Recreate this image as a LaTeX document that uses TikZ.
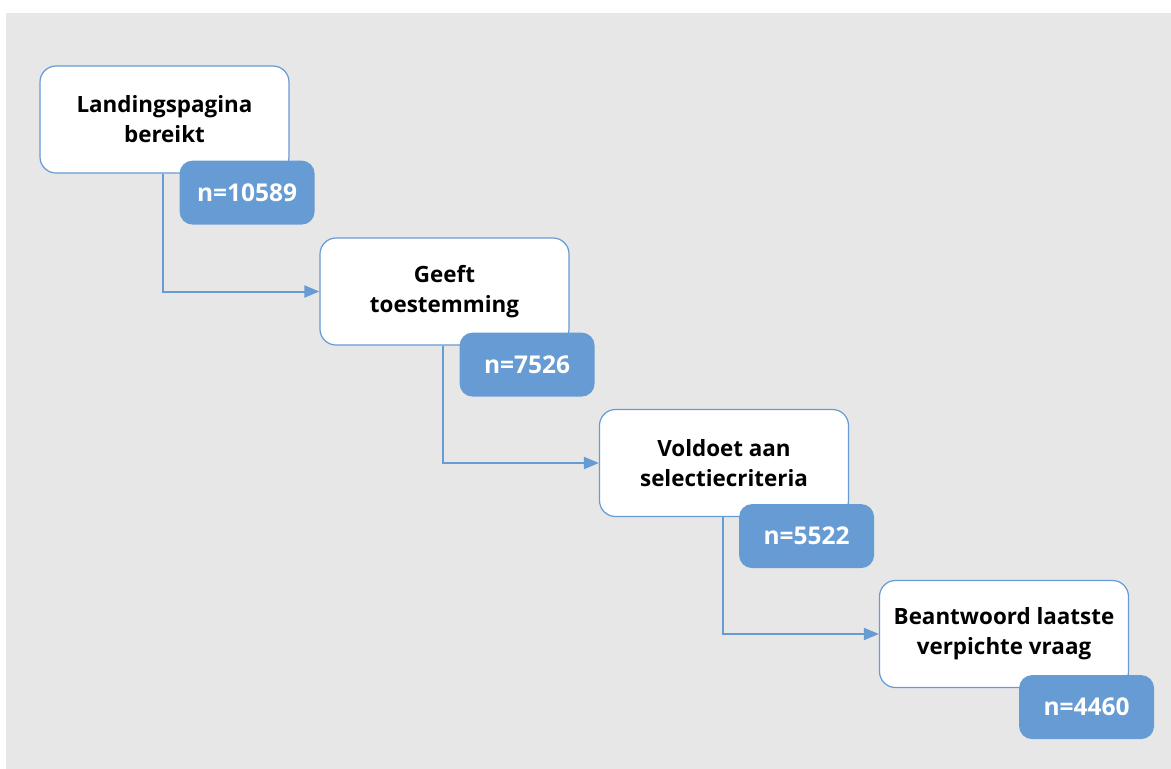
\documentclass[tikz,border=0pt]{standalone}
\usepackage{fontspec}
\setmainfont{Open Sans}
\usepackage{tikz}
\usetikzlibrary{arrows.meta, positioning, calc}

\definecolor{stepblue}{RGB}{102,155,211}
\definecolor{panelgray}{RGB}{231,231,231}

\tikzset{
    stage/.style={draw=stepblue, line width=1.2pt, fill=white, rounded corners=16pt,
        minimum width=249pt, minimum height=107pt, align=center,
        font=\fontsize{22.4}{30}\selectfont\bfseries},
    count/.style={fill=stepblue, text=white, rounded corners=13pt,
        minimum width=135pt, minimum height=64pt,
        font=\fontsize{24.5}{28}\selectfont\bfseries},
    flow/.style={draw=stepblue, line width=2pt, -{Triangle[length=15pt,width=12pt]}}
}

\begin{document}
\begin{tikzpicture}[x=1pt, y=-1pt]
    \useasboundingbox (0,0) rectangle (1171,769);
    \fill[panelgray] (6,13) rectangle (1171,769);

    \node[stage] (land) at (164.5,119.5) {Landingspagina\\bereikt};
    \node[stage] (consent) at (444.5,291.5) {Geeft\\toestemming};
    \node[stage] (criteria) at (724,463) {Voldoet aan\\selectiecriteria};
    \node[stage] (answer) at (1004,634) {Beantwoord laatste\\verpichte vraag};

    \node[count] (nland) at ([shift={(-42.5,19)}]land.south east) {n=10589};
    \node[count] (nconsent) at ([shift={(-42.5,19)}]consent.south east) {n=7526};
    \node[count] (ncriteria) at ([shift={(-42.5,19)}]criteria.south east) {n=5522};
    \node[count] (nanswer) at ([shift={(-42.5,19)}]answer.south east) {n=4460};

    \draw[flow] ([xshift=-1.5pt]land.south) |- (consent.west);
    \draw[flow] ([xshift=-1.5pt]consent.south) |- (criteria.west);
    \draw[flow] ([xshift=-1.5pt]criteria.south) |- (answer.west);
\end{tikzpicture}
\end{document}
